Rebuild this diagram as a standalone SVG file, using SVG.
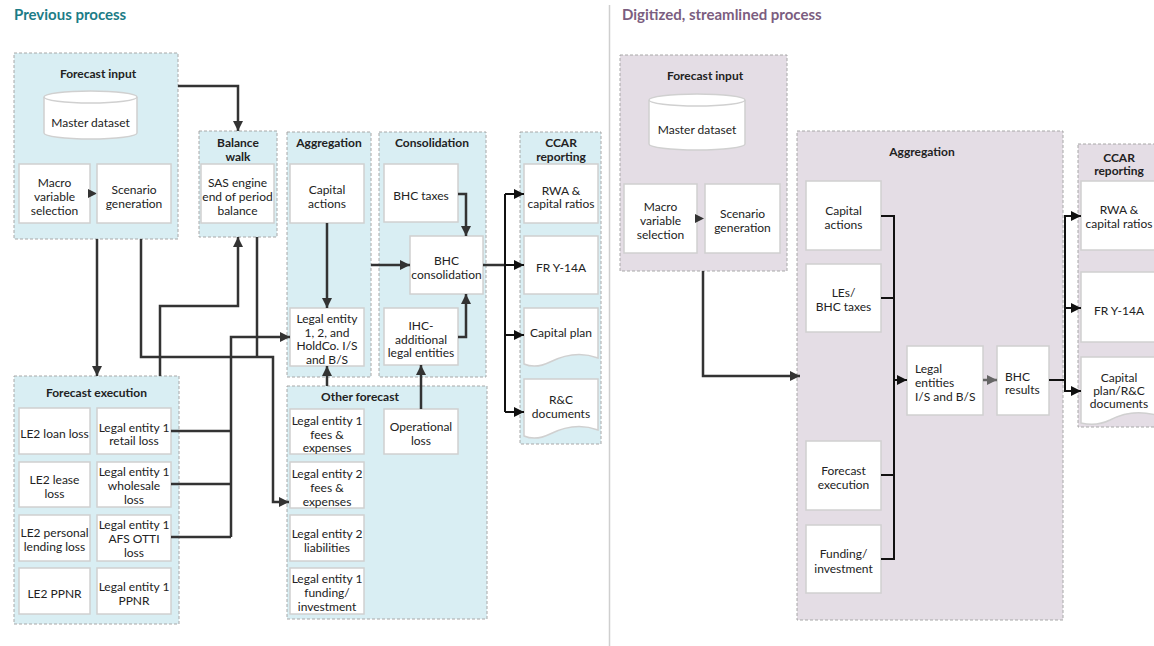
<svg xmlns="http://www.w3.org/2000/svg" width="1154" height="646" viewBox="0 0 1154 646">
  <style>
    text { font-family: Lato, "Liberation Sans", sans-serif; font-size: 12px; fill: #222; text-anchor: middle; }
    .hd { font-weight: bold; }
    .big { font-size: 15px; font-weight: bold; text-anchor: start; }
    .lft { text-anchor: start; }
    .pl { fill: #d9eef3; stroke: #a8a8a8; stroke-width: 1; stroke-dasharray: 3 2; }
    .pr { fill: #e4dde5; stroke: #a8a8a8; stroke-width: 1; stroke-dasharray: 3 2; }
    .box { fill: #fff; stroke: #d0d0d0; stroke-width: 1.5; }
    .cl { fill: none; stroke: #333; stroke-width: 2.5; }
    .cf { fill: none; stroke: #111; stroke-width: 2; }
    .cr { fill: none; stroke: #111; stroke-width: 2; }
    .cg { fill: none; stroke: #666; stroke-width: 2.5; }
  </style>
  <defs>
    <marker id="ah" viewBox="0 0 10 10" refX="10" refY="5" markerWidth="10" markerHeight="10" markerUnits="userSpaceOnUse" orient="auto">
      <path d="M0,0 L10,5 L0,10 z" fill="#333"/>
    </marker>
    <marker id="ahk" viewBox="0 0 10 10" refX="10" refY="5" markerWidth="10" markerHeight="10" markerUnits="userSpaceOnUse" orient="auto">
      <path d="M0,0 L10,5 L0,10 z" fill="#111"/>
    </marker>
    <marker id="ahg" viewBox="0 0 10 10" refX="10" refY="5" markerWidth="10" markerHeight="10" markerUnits="userSpaceOnUse" orient="auto">
      <path d="M0,0 L10,5 L0,10 z" fill="#666"/>
    </marker>
  </defs>

  <rect width="1154" height="646" fill="#fff"/>

  <!-- headings and divider -->
  <text class="big" x="14" y="20" style="fill:#1c7c87">Previous process</text>
  <text class="big" x="622" y="20" style="fill:#7b5d80">Digitized, streamlined process</text>
  <line x1="609.5" y1="5" x2="609.5" y2="646" stroke="#cfcfcf" stroke-width="1.5"/>

  <!-- ===== previous process ===== -->
  <g id="prev-forecast-input">
    <rect class="pl" x="14" y="53" width="164" height="186"/>
    <text class="hd" x="98" y="78">Forecast input</text>
    <path class="box" d="M44,97 A46.5,6 0 0 1 137,97 V133 A46.5,6 0 0 1 44,133 Z"/>
    <path d="M44,97 A46.5,6 0 0 0 137,97" fill="none" stroke="#d0d0d0" stroke-width="1.5"/>
    <text x="90.5" y="127">Master dataset</text>
    <rect class="box" x="19" y="164" width="71" height="59"/>
    <text x="54.5" y="186.5">Macro</text>
    <text x="54.5" y="200.5">variable</text>
    <text x="54.5" y="214.5">selection</text>
    <path d="M88,189 L97,193.5 L88,198 z" fill="#333"/>
    <rect class="box" x="97" y="164" width="74" height="59"/>
    <text x="134" y="193.5">Scenario</text>
    <text x="134" y="207.5">generation</text>
  </g>

  <g id="prev-balance-walk">
    <rect class="pl" x="199" y="131" width="78" height="106"/>
    <text class="hd" x="238" y="147">Balance</text>
    <text class="hd" x="238" y="161">walk</text>
    <rect class="box" x="201" y="164" width="73" height="59"/>
    <text x="237.5" y="186.5">SAS engine</text>
    <text x="237.5" y="200.5">end of period</text>
    <text x="237.5" y="214.5">balance</text>
  </g>

  <g id="prev-aggregation">
    <rect class="pl" x="287" y="132" width="84" height="245"/>
    <text class="hd" x="329" y="147">Aggregation</text>
    <rect class="box" x="290" y="164" width="74" height="59"/>
    <text x="327" y="193.5">Capital</text>
    <text x="327" y="207.5">actions</text>
    <rect class="box" x="290" y="308" width="74" height="58"/>
    <text x="327" y="323">Legal entity</text>
    <text x="327" y="336.5">1, 2, and</text>
    <text x="327" y="350">HoldCo. I/S</text>
    <text x="327" y="363.5">and B/S</text>
  </g>

  <g id="prev-consolidation">
    <rect class="pl" x="379" y="132" width="107" height="245"/>
    <text class="hd" x="432" y="147">Consolidation</text>
    <rect class="box" x="384" y="164" width="74" height="58"/>
    <text x="421" y="200">BHC taxes</text>
    <rect class="box" x="410" y="236" width="73" height="58"/>
    <text x="446.5" y="265">BHC</text>
    <text x="446.5" y="279">consolidation</text>
    <rect class="box" x="384" y="308" width="74" height="57"/>
    <text x="421" y="330">IHC-</text>
    <text x="421" y="343.5">additional</text>
    <text x="421" y="357">legal entities</text>
  </g>

  <g id="prev-ccar">
    <rect class="pl" x="520" y="132" width="81" height="312"/>
    <text class="hd" x="561" y="147">CCAR</text>
    <text class="hd" x="561" y="161">reporting</text>
    <rect class="box" x="524" y="164" width="74" height="59"/>
    <text x="561" y="195">RWA &amp;</text>
    <text x="561" y="208">capital ratios</text>
    <rect class="box" x="524" y="236" width="74" height="58"/>
    <text x="561" y="272">FR Y-14A</text>
    <path class="box" d="M524,308 H598 V358 C582,352 566,354 550,362 C540,367 531,367 524,364 Z"/>
    <text x="561" y="337">Capital plan</text>
    <path class="box" d="M524,379 H598 V430 C582,424 566,426 550,434 C540,439 531,439 524,436 Z"/>
    <text x="561" y="404">R&amp;C</text>
    <text x="561" y="418">documents</text>
  </g>

  <g id="prev-forecast-execution">
    <rect class="pl" x="14" y="376" width="165" height="248"/>
    <text class="hd" x="96.5" y="397">Forecast execution</text>
    <rect class="box" x="19" y="408" width="71" height="46"/>
    <text x="54.5" y="438">LE2 loan loss</text>
    <rect class="box" x="97" y="408" width="74" height="46"/>
    <text x="134" y="432">Legal entity 1</text>
    <text x="134" y="445">retail loss</text>
    <rect class="box" x="19" y="462" width="71" height="45"/>
    <text x="54.5" y="484">LE2 lease</text>
    <text x="54.5" y="498">loss</text>
    <rect class="box" x="97" y="462" width="74" height="45"/>
    <text x="134" y="476">Legal entity 1</text>
    <text x="134" y="490">wholesale</text>
    <text x="134" y="504">loss</text>
    <rect class="box" x="19" y="515" width="71" height="46"/>
    <text x="54.5" y="537">LE2 personal</text>
    <text x="54.5" y="551">lending loss</text>
    <rect class="box" x="97" y="515" width="74" height="46"/>
    <text x="134" y="529">Legal entity 1</text>
    <text x="134" y="543">AFS OTTI</text>
    <text x="134" y="557">loss</text>
    <rect class="box" x="19" y="568" width="71" height="46"/>
    <text x="54.5" y="598">LE2 PPNR</text>
    <rect class="box" x="97" y="568" width="74" height="46"/>
    <text x="134" y="591">Legal entity 1</text>
    <text x="134" y="605">PPNR</text>
  </g>

  <g id="prev-other-forecast">
    <rect class="pl" x="287" y="386" width="200" height="233"/>
    <text class="hd" x="360" y="401">Other forecast</text>
    <rect class="box" x="290" y="409" width="74" height="45"/>
    <text x="327" y="425">Legal entity 1</text>
    <text x="327" y="438.5">fees &amp;</text>
    <text x="327" y="452">expenses</text>
    <rect class="box" x="290" y="462" width="74" height="46"/>
    <text x="327" y="478">Legal entity 2</text>
    <text x="327" y="492">fees &amp;</text>
    <text x="327" y="505.5">expenses</text>
    <rect class="box" x="290" y="515" width="74" height="46"/>
    <text x="327" y="538">Legal entity 2</text>
    <text x="327" y="552">liabilities</text>
    <rect class="box" x="290" y="568" width="74" height="46"/>
    <text x="327" y="583">Legal entity 1</text>
    <text x="327" y="597">funding/</text>
    <text x="327" y="611">investment</text>
    <rect class="box" x="384" y="409" width="74" height="45"/>
    <text x="421" y="431">Operational</text>
    <text x="421" y="445">loss</text>
  </g>

  <!-- ===== digitized process ===== -->
  <g id="new-forecast-input">
    <rect class="pr" x="620" y="55" width="167" height="216"/>
    <text class="hd" x="705" y="80">Forecast input</text>
    <path class="box" d="M649,100 A48,6 0 0 1 745,100 V144 A48,6 0 0 1 649,144 Z"/>
    <path d="M649,100 A48,6 0 0 0 745,100" fill="none" stroke="#d0d0d0" stroke-width="1.5"/>
    <text x="697" y="134">Master dataset</text>
    <rect class="box" x="624" y="184" width="73" height="69"/>
    <text x="660.5" y="211">Macro</text>
    <text x="660.5" y="225">variable</text>
    <text x="660.5" y="239">selection</text>
    <path d="M695,214 L704,218.5 L695,223 z" fill="#333"/>
    <rect class="box" x="705" y="184" width="75" height="69"/>
    <text x="742.5" y="218">Scenario</text>
    <text x="742.5" y="232">generation</text>
  </g>

  <g id="new-aggregation">
    <rect class="pr" x="797" y="131" width="266" height="489"/>
    <text class="hd" x="922" y="156">Aggregation</text>
    <rect class="box" x="806" y="181" width="75" height="69"/>
    <text x="843.5" y="215">Capital</text>
    <text x="843.5" y="229">actions</text>
    <rect class="box" x="806" y="264" width="75" height="68"/>
    <text x="843.5" y="297">LEs/</text>
    <text x="843.5" y="311">BHC taxes</text>
    <rect class="box" x="806" y="441" width="75" height="69"/>
    <text x="843.5" y="475">Forecast</text>
    <text x="843.5" y="489">execution</text>
    <rect class="box" x="806" y="525" width="75" height="68"/>
    <text x="843.5" y="558">Funding/</text>
    <text x="843.5" y="573">investment</text>
    <rect class="box" x="907" y="346" width="76" height="69"/>
    <text class="lft" x="915" y="373">Legal</text>
    <text class="lft" x="915" y="387">entities</text>
    <text class="lft" x="915" y="401">I/S and B/S</text>
    <rect class="box" x="997" y="346" width="52" height="69"/>
    <text class="lft" x="1005" y="381">BHC</text>
    <text class="lft" x="1005" y="394">results</text>
  </g>

  <g id="new-ccar">
    <rect class="pr" x="1078" y="144" width="84" height="283"/>
    <text class="hd" x="1119" y="162">CCAR</text>
    <text class="hd" x="1119" y="175">reporting</text>
    <rect class="box" x="1081" y="181" width="78" height="69"/>
    <text x="1119" y="214">RWA &amp;</text>
    <text x="1119" y="228">capital ratios</text>
    <rect class="box" x="1081" y="272" width="78" height="70"/>
    <text x="1119" y="315">FR Y-14A</text>
    <path class="box" d="M1081,357 H1159 V416 C1140,410 1125,412 1110,420 C1100,425 1090,425 1081,423 Z"/>
    <text x="1119" y="382">Capital</text>
    <text x="1119" y="395">plan/R&amp;C</text>
    <text x="1119" y="408">documents</text>
  </g>

  <!-- ===== connectors ===== -->
  <g id="connectors">
    <!-- previous process -->
    <path class="cl" d="M178,86 H238 V131" marker-end="url(#ah)"/>
    <path class="cl" d="M97,239 V376" marker-end="url(#ah)"/>
    <path class="cl" d="M141,239 V357 H273 V502 H289" marker-end="url(#ah)"/>
    <path class="cl" d="M257,237 V357"/>
    <path class="cl" d="M160,376 V306 H238 V237" marker-end="url(#ah)"/>
    <path class="cl" d="M171,431 H231 M171,484 H231 M171,537 H231"/>
    <path class="cl" d="M231,537 V337 H290" marker-end="url(#ah)"/>
    <path class="cl" d="M327,223 V308" marker-end="url(#ah)"/>
    <path class="cl" d="M327,386 V366" marker-end="url(#ah)"/>
    <path class="cl" d="M371,265 H410" marker-end="url(#ah)"/>
    <path class="cl" d="M458,194 H466 V236" marker-end="url(#ah)"/>
    <path class="cl" d="M458,337 H466 V294" marker-end="url(#ah)"/>
    <path class="cl" d="M421,409 V365" marker-end="url(#ah)"/>
    <path class="cl" d="M483,265 H505"/>
    <path class="cf" d="M505,194 V412"/>
    <path class="cf" d="M505,194 H524" marker-end="url(#ahk)"/>
    <path class="cf" d="M505,265 H524" marker-end="url(#ahk)"/>
    <path class="cf" d="M505,335 H524" marker-end="url(#ahk)"/>
    <path class="cf" d="M505,412 H524" marker-end="url(#ahk)"/>

    <!-- digitized process -->
    <path class="cl" d="M703,271 V376 H800" marker-end="url(#ah)"/>
    <path class="cr" d="M881,216 H894 M881,298 H894 M881,475 H894 M881,559 H894 M894,215 V560"/>
    <path class="cr" d="M894,380 H907" marker-end="url(#ahk)"/>
    <path class="cg" d="M983,380 H997" marker-end="url(#ahg)"/>
    <path class="cr" d="M1049,380 H1065 M1065,215 V392"/>
    <path class="cr" d="M1065,216 H1081" marker-end="url(#ahk)"/>
    <path class="cr" d="M1065,308 H1081" marker-end="url(#ahk)"/>
    <path class="cr" d="M1065,391 H1081" marker-end="url(#ahk)"/>
  </g>
</svg>
